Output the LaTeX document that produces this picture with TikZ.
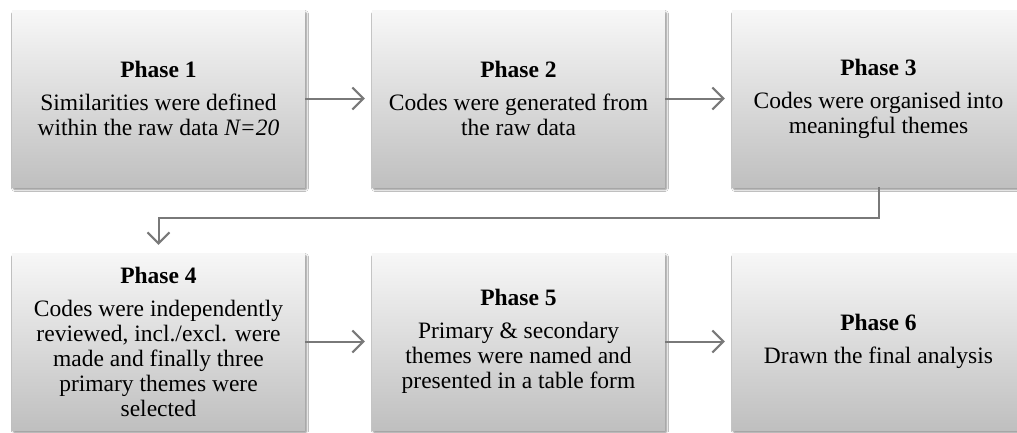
\documentclass[tikz,border=0pt]{standalone}
\usepackage{fontspec}
\setmainfont{Liberation Serif}
\usetikzlibrary{arrows.meta,shadows.blur}
\begin{document}
\begin{tikzpicture}[x=1pt,y=-1pt,
  phasebox/.style={minimum width=293pt,minimum height=177pt,inner sep=0pt,
    align=center,top color=gray!6,bottom color=gray!50,draw=none,
    blur shadow={shadow xshift=1.5pt,shadow yshift=-2.5pt,shadow blur steps=6,shadow blur extra rounding=1pt,shadow opacity=45},
    font=\fontsize{23.5}{25}\selectfont},
  flow/.style={draw=gray!95!black,line width=2pt,
    -{Straight Barb[length=11pt,width=22pt,line width=2pt]}}]
\useasboundingbox (0,0) rectangle (1017,432);
\clip (0,0) rectangle (1017,432);
\fill[white] (0,0) rectangle (1017,432);
\node[phasebox] (b1) at (158.5,98.5) {\textbf{Phase 1}\\[8pt]Similarities were defined\\within the raw data \textit{N=20}};
\node[phasebox] (b2) at (518.5,98.5) {\textbf{Phase 2}\\[8pt]Codes were generated from\\the raw data};
\node[phasebox] (b3) at (878.5,98.5) {\textbf{Phase 3}\\[8pt]Codes were organised into\\meaningful themes};
\node[phasebox] (b4) at (158.5,341.5) {\textbf{Phase 4}\\[8pt]Codes were independently\\reviewed, incl./excl. were\\made and finally three\\primary themes were\\selected};
\node[phasebox] (b5) at (518.5,341.5) {\textbf{Phase 5}\\[8pt]Primary \& secondary\\themes were named and\\presented in a table form};
\node[phasebox] (b6) at (878.5,341.5) {\textbf{Phase 6}\\[8pt]Drawn the final analysis};
\coordinate (t4) at ([yshift=8pt]b4.north);
\draw[flow] (b1.east) -- ([xshift=-7pt]b2.west);
\draw[flow] (b2.east) -- ([xshift=-7pt]b3.west);
\draw[flow] (b4.east) -- ([xshift=-7pt]b5.west);
\draw[flow] (b5.east) -- ([xshift=-7pt]b6.west);
\draw[flow] (b3.south) -- ++(0,31) -| (t4);
\end{tikzpicture}
\end{document}
